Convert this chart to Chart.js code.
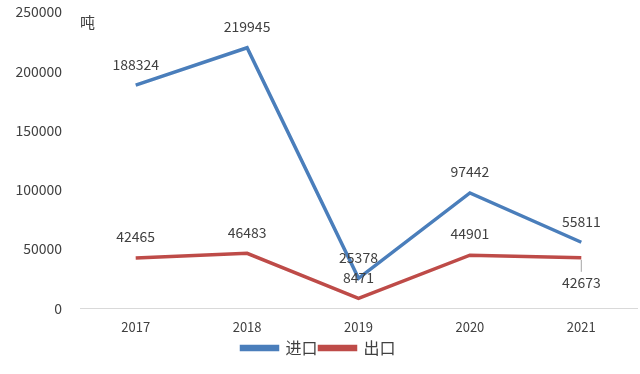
<!DOCTYPE html>
<html><head><meta charset="utf-8">
<script src="https://cdn.jsdelivr.net/npm/chart.js@4"></script>
<style>html,body{margin:0;padding:0;background:#fff}#w{width:640px;height:374px;position:relative}</style>
</head><body><div id="w"><canvas id="c"></canvas></div>
<script>
const categories = ['2017','2018','2019','2020','2021'];
const importValues = [188324, 219945, 25378, 97442, 55811];
const exportValues = [42465, 46483, 8471, 44901, 42673];
const seriesNames = ['进口','出口'];
const unitLabel = '吨';

const FONT = "'Microsoft YaHei','Noto Sans CJK SC','DejaVu Sans',sans-serif";

const labelPlugin = {
  id: 'dl',
  afterDatasetsDraw(chart) {
    const ctx = chart.ctx;
    ctx.save();
    ctx.font = '14px ' + FONT;
    ctx.fillStyle = '#404040';
    ctx.textAlign = 'center';
    ctx.textBaseline = 'middle';
    chart.data.datasets.forEach((ds, di) => {
      const meta = chart.getDatasetMeta(di);
      meta.data.forEach((pt, i) => {
        let dy = -21;
        if (di === 1 && i === 4) {
          dy = 25;
          ctx.strokeStyle = '#a6a6a6'; ctx.lineWidth = 1;
          ctx.beginPath(); ctx.moveTo(pt.x, pt.y + 2); ctx.lineTo(pt.x, pt.y + 14); ctx.stroke();
        }
        ctx.fillText(String(ds.data[i]), pt.x, pt.y + dy);
      });
    });
    const ya = chart.scales.y;
    ctx.font = '15px ' + FONT;
    ctx.fillStyle = '#404040';
    ctx.textAlign = 'left';
    ctx.fillText(unitLabel, ya.right + 0, ya.top + 10);
    ctx.restore();
  }
};

new Chart(document.getElementById('c'), {
  type: 'line',
  data: {
    labels: categories,
    datasets: [
      { label: seriesNames[0], data: importValues, borderColor: '#4a7ebb', backgroundColor: '#4a7ebb', borderWidth: 3.5, pointRadius: 0, tension: 0 },
      { label: seriesNames[1], data: exportValues, borderColor: '#be4b48', backgroundColor: '#be4b48', borderWidth: 3.5, pointRadius: 0, tension: 0 }
    ]
  },
  options: {
    responsive: true, maintainAspectRatio: false, animation: false,
    layout: { padding: { top: 0, right: 3, left: 0, bottom: 8 } },
    plugins: {
      tooltip: { enabled: false },
      legend: {
        position: 'bottom',
        labels: { boxWidth: 36, boxHeight: 3, padding: 2, color: '#404040', font: { size: 16, family: FONT } }
      }
    },
    scales: {
      x: {
        offset: true,
        grid: { display: false },
        border: { color: '#d9d9d9', width: 1 },
        ticks: { color: '#404040', font: { size: 13, family: FONT }, padding: 3 }
      },
      y: {
        min: 0, max: 250000,
        grid: { display: false },
        border: { display: false },
        afterFit(s) { s.width = 80; },
        ticks: { stepSize: 50000, color: '#404040', font: { size: 14, family: FONT, lineHeight: 0.3 }, padding: 10, callback: v => String(v) }
      }
    }
  },
  plugins: [labelPlugin]
});
</script></body></html>
